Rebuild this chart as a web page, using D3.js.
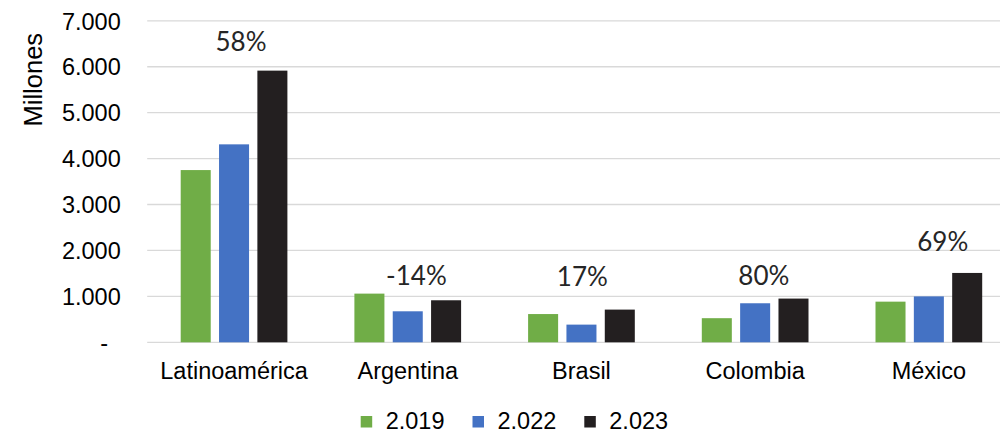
<!DOCTYPE html>
<html>
<head>
<meta charset="utf-8">
<script src="https://cdn.jsdelivr.net/npm/d3@7"></script>
<style>
  html, body { margin: 0; padding: 0; background: #fff; }
  svg { display: block; }
</style>
</head>
<body>
<svg id="chart" width="1000" height="433"></svg>
<script>
// ---- data ----
const categories = ["Latinoamérica", "Argentina", "Brasil", "Colombia", "México"];
const seriesNames = ["2.019", "2.022", "2.023"];
const values2019 = [3750, 1060, 615, 525, 885];
const values2022 = [4310, 675, 385, 850, 1000];
const values2023 = [5915, 915, 712, 952, 1510];
const growthLabels = ["58%", "-14%", "17%", "80%", "69%"];
// label anchor level (in millions) and horizontal shift (fraction of category band)
const growthLevel = [6350, 1255, 1225, 1245, 1985];
const growthShift = [0.04, 0.05, 0.005, 0.05, 0.08];
const yTicks = [0, 1000, 2000, 3000, 4000, 5000, 6000, 7000];
const yTitle = "Millones";

const colors = ["#70AD47", "#4472C4", "#231F20"];
const seriesValues = [values2019, values2022, values2023];

// ---- layout ----
const svg = d3.select("#chart");
const plotLeft = 147.2, plotRight = 1015.7, plotTop = 20.8, plotBottom = 342.3;
const axisFont = "'Liberation Sans', Arial, sans-serif";
const labelFont = "Lato, 'Open Sans', sans-serif";

const x0 = d3.scaleBand().domain(categories).range([plotLeft, plotRight]).paddingInner(0).paddingOuter(0);
const groupW = 106.7;
const x1 = d3.scaleBand().domain(seriesNames)
  .range([(x0.bandwidth() - groupW) / 2, (x0.bandwidth() + groupW) / 2])
  .paddingInner(0.217).paddingOuter(0);
const y = d3.scaleLinear().domain([0, 7000]).range([plotBottom, plotTop]);

const locale = d3.formatLocale({ decimal: ",", thousands: ".", grouping: [3], currency: ["", ""] });
const fmt = locale.format(",.0f");

// gridlines
svg.append("g").selectAll("line").data(yTicks).join("line")
  .attr("x1", plotLeft).attr("x2", 1000)
  .attr("y1", d => y(d)).attr("y2", d => y(d))
  .attr("stroke", "#d9d9d9").attr("stroke-width", 1.3);

// y axis labels
const yAxis = d3.axisLeft(y).tickValues(yTicks).tickSize(0).tickPadding(0)
  .tickFormat(d => d === 0 ? "-" : fmt(d));
const gy = svg.append("g").attr("transform", "translate(120.7,0)").call(yAxis);
gy.select(".domain").remove();
gy.selectAll("text")
  .attr("font-family", axisFont).attr("font-size", 23.5).attr("fill", "#000")
  .attr("dy", "0.35em")
  .attr("x", d => d === 0 ? -12.7 : 0);

// y title
svg.append("text")
  .attr("transform", "translate(41.5,79.7) rotate(-90)")
  .attr("text-anchor", "middle")
  .attr("font-family", axisFont).attr("font-size", 25.5).attr("fill", "#000")
  .text(yTitle);

// bars
const groups = svg.append("g").selectAll("g").data(categories).join("g")
  .attr("transform", d => `translate(${x0(d)},0)`);
groups.selectAll("rect")
  .data((c, i) => seriesNames.map((s, j) => ({ s, j, v: seriesValues[j][i] })))
  .join("rect")
  .attr("x", d => x1(d.s))
  .attr("width", x1.bandwidth())
  .attr("y", d => y(d.v))
  .attr("height", d => y(0) - y(d.v))
  .attr("fill", d => colors[d.j]);

// category labels
const xAxis = d3.axisBottom(x0).tickSize(0).tickPadding(0);
const gx = svg.append("g").attr("transform", `translate(0,${plotBottom})`).call(xAxis);
gx.select(".domain").remove();
gx.selectAll("text")
  .attr("font-family", axisFont).attr("font-size", 23.5).attr("fill", "#000")
  .attr("y", 36.7).attr("dy", 0);

// growth labels
svg.append("g").selectAll("text").data(categories).join("text")
  .attr("x", (c, i) => x0(c) + x0.bandwidth() * (0.5 + growthShift[i]))
  .attr("y", (c, i) => y(growthLevel[i]))
  .attr("text-anchor", "middle")
  .attr("font-family", labelFont).attr("font-size", 26).attr("fill", "#262626")
  .text((c, i) => growthLabels[i]);

// legend
const legend = svg.append("g").selectAll("g").data(seriesNames).join("g")
  .attr("transform", (d, i) => `translate(${360.7 + i * 111.8},0)`);
legend.append("rect")
  .attr("x", 0).attr("y", 416).attr("width", 11.5).attr("height", 11.5)
  .attr("fill", (d, i) => colors[i]);
legend.append("text")
  .attr("x", 25).attr("y", 429)
  .attr("font-family", axisFont).attr("font-size", 23.5).attr("fill", "#000")
  .text(d => d);
</script>
</body>
</html>
